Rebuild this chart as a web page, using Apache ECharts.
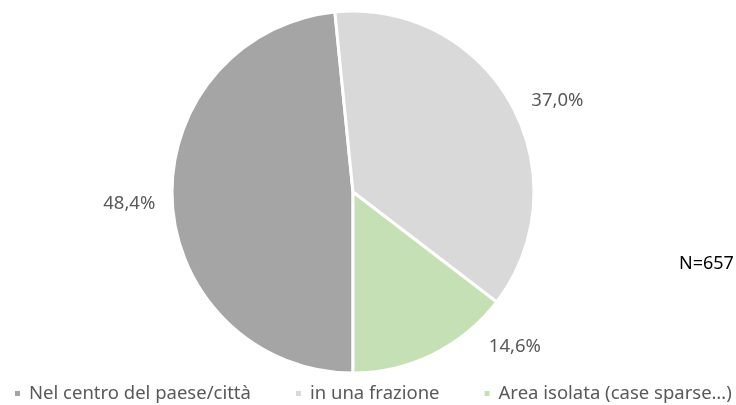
<!DOCTYPE html>
<html>
<head>
<meta charset="utf-8">
<script src="https://cdn.jsdelivr.net/npm/echarts@6/dist/echarts.min.js"></script>
<style>
    html, body { margin: 0; padding: 0; background: #fff; }
    #pie { width: 736px; height: 405px; }
</style>
</head>
<body>
<div id="pie"></div>
<script>
var categories = ['Nel centro del paese/città', 'in una frazione', 'Area isolata (case sparse…)'];
var values = [48.4, 37.0, 14.6];
var colors = ['#A5A5A5', '#D9D9D9', '#C5E0B4'];
var noteText = 'N=657';

var myPie;
var pieCenter = [353, 192];
var pieRadius = 181;
var labelDist = 224;
// 标签角度微调（度）
var labelShift = [0, 5, -20];

window.onload = function () {
    myPie = echarts.init(document.getElementById('pie'));
    drawPie();
}

// 计算每个扇区中间角度（从正上方顺时针，起点在正下方）
function midAngles() {
    var total = 0;
    for (var i = 0; i < values.length; i++) total += values[i];
    var arr = [];
    var acc = 180;
    for (var j = 0; j < values.length; j++) {
        var span = values[j] / total * 360;
        arr.push(acc + span / 2);
        acc += span;
    }
    return arr;
}

// 饼图
function drawPie() {
    var data = [];
    for (var i = 0; i < categories.length; i++) {
        data.push({
            name: categories[i],
            value: values[i],
            itemStyle: { color: colors[i] }
        });
    }
    var mids = midAngles();

    var option = {
        animation: false,
        textStyle: { fontFamily: 'Noto Sans' },
        legend: {
            data: categories,
            top: 384,
            left: 13,
            width: 723,
            padding: 0,
            itemWidth: 7,
            itemHeight: 7,
            itemGap: 43,
            icon: 'rect',
            textStyle: { fontSize: 18.5, color: '#595959', fontFamily: 'Noto Sans', padding: [0, 0, 0, 3] }
        },
        graphic: [{
            type: 'text',
            left: 679,
            top: 255,
            style: { text: noteText, fontSize: 18, fill: '#000', fontFamily: 'Noto Sans' }
        }],
        series: [{
            type: 'pie',
            center: pieCenter,
            radius: pieRadius,
            startAngle: 270,
            clockwise: true,
            itemStyle: { borderColor: '#fff', borderWidth: 3 },
            label: {
                show: true,
                position: 'outside',
                fontSize: 18.5,
                color: '#595959',
                fontFamily: 'Noto Sans',
                formatter: function (p) {
                    return p.value.toFixed(1).replace('.', ',') + '%';
                }
            },
            labelLine: { show: false },
            labelLayout: function (params) {
                var a = (mids[params.dataIndex] + labelShift[params.dataIndex]) * Math.PI / 180;
                return {
                    x: pieCenter[0] + labelDist * Math.sin(a),
                    y: pieCenter[1] - labelDist * Math.cos(a),
                    align: 'center',
                    verticalAlign: 'middle'
                };
            },
            data: data
        }]
    };

    myPie.setOption(option);
}
</script>
</body>
</html>
